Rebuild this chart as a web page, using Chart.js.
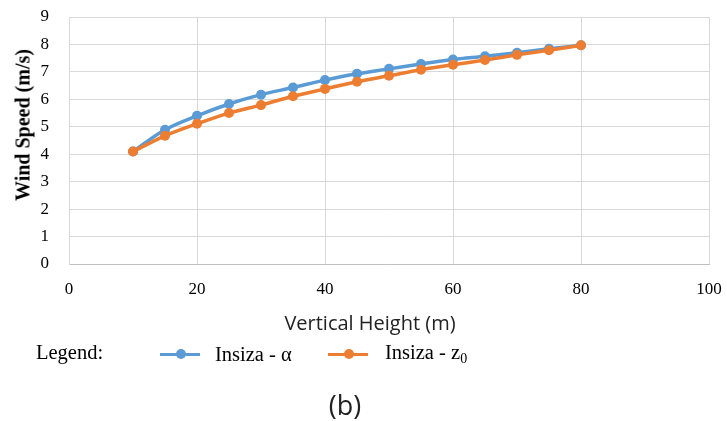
<!DOCTYPE html>
<html>
<head>
<meta charset="utf-8">
<script src="https://cdn.jsdelivr.net/npm/chart.js@4/dist/chart.umd.min.js"></script>
<style>
  html, body { margin: 0; padding: 0; background: #fff; }
  #wrap { position: relative; width: 727px; height: 421px; overflow: hidden; }
  #c { position: absolute; left: 0; top: 0; }
  .t { position: absolute; white-space: nowrap; color: #000; }
  #ytitle { font: bold 20px "Liberation Serif", "Times New Roman", serif; left: 23px; top: 125px; transform: translate(-50%, -50%) rotate(-90deg); }
  #xtitle { font: 20px "Open Sans", sans-serif; color: #222; left: 370px; top: 322px; transform: translate(-50%, -50%); }
  #legword { font: 20.5px "Liberation Serif", serif; left: 36px; top: 352px; transform: translateY(-50%); }
  .leg { font: 20.5px "Liberation Serif", serif; top: 354px; transform: translateY(-50%); }
  .sw { position: absolute; width: 40px; height: 3px; top: 354px; margin-top: -1.5px; }
  .sw::after { content: ""; position: absolute; left: 16px; top: -3.5px; width: 10px; height: 10px; border-radius: 50%; background: inherit; }
  #cap { font: 27px "Open Sans", sans-serif; color: #222; left: 345px; top: 404px; transform: translate(-50%, -50%); }
</style>
</head>
<body>
<div id="wrap">
  <canvas id="c" width="727" height="421"></canvas>
  <div class="t" id="ytitle">Wind Speed (m/s)</div>
  <div class="t" id="xtitle">Vertical Height (m)</div>
  <div class="t" id="legword">Legend:</div>
  <div class="sw" id="sw1" style="left:160px;"></div>
  <div class="t leg" id="leg1" style="left:215px;">Insiza - α</div>
  <div class="sw" id="sw2" style="left:328px;"></div>
  <div class="t leg" id="leg2" style="left:385px;">Insiza - z<sub style="font-size:14px;vertical-align:-4px;">0</sub></div>
  <div class="t" id="cap">(b)</div>
</div>
<script>
const heights = [10, 15, 20, 25, 30, 35, 40, 45, 50, 55, 60, 65, 70, 75, 80];
const alphaSpeeds = [4.10, 4.89, 5.40, 5.83, 6.17, 6.43, 6.70, 6.93, 7.11, 7.29, 7.45, 7.57, 7.70, 7.84, 7.97];
const z0Speeds = [4.10, 4.67, 5.11, 5.50, 5.79, 6.11, 6.38, 6.64, 6.86, 7.08, 7.26, 7.43, 7.62, 7.79, 7.97];
const seriesNames = ["Insiza - α", "Insiza - z₀"];
const seriesColors = ["#5B9BD5", "#ED7D31"];

document.getElementById("sw1").style.background = seriesColors[0];
document.getElementById("sw2").style.background = seriesColors[1];

const toXY = (xs, ys) => xs.map((x, i) => ({ x: x, y: ys[i] }));

new Chart(document.getElementById("c"), {
  type: "line",
  data: {
    datasets: [
      {
        label: seriesNames[1],
        data: toXY(heights, z0Speeds),
        borderColor: seriesColors[1],
        backgroundColor: seriesColors[1],
        borderWidth: 3.5,
        pointRadius: 5,
        pointBorderWidth: 0,
        cubicInterpolationMode: "monotone",
        fill: false
      },
      {
        label: seriesNames[0],
        data: toXY(heights, alphaSpeeds),
        borderColor: seriesColors[0],
        backgroundColor: seriesColors[0],
        borderWidth: 3.5,
        pointRadius: 5,
        pointBorderWidth: 0,
        cubicInterpolationMode: "monotone",
        fill: false,
        order: 1
      }
    ]
  },
  options: {
    responsive: false,
    animation: false,
    events: [],
    layout: { padding: { left: 0, top: 17, right: 18, bottom: 117 } },
    plugins: { legend: { display: false }, tooltip: { enabled: false } },
    scales: {
      x: {
        type: "linear",
        min: 0, max: 100,
        ticks: { stepSize: 20, padding: 15, color: "#000", font: { family: "Liberation Serif", size: 17 } },
        grid: { color: "#d9d9d9", lineWidth: 1, drawTicks: false },
        border: { color: "#bfbfbf", width: 1 },
        afterFit: s => { s.height = 40; s.paddingLeft = 0; s.paddingRight = 0; }
      },
      y: {
        min: 0, max: 9,
        ticks: { stepSize: 1, padding: 20, color: "#000", font: { family: "Liberation Serif", size: 17 } },
        grid: { color: "#d9d9d9", lineWidth: 1, drawTicks: false },
        border: { color: "#d9d9d9", width: 1 },
        afterFit: s => { s.width = 69; s.paddingTop = 0; s.paddingBottom = 0; }
      }
    }
  }
});
</script>
</body>
</html>
